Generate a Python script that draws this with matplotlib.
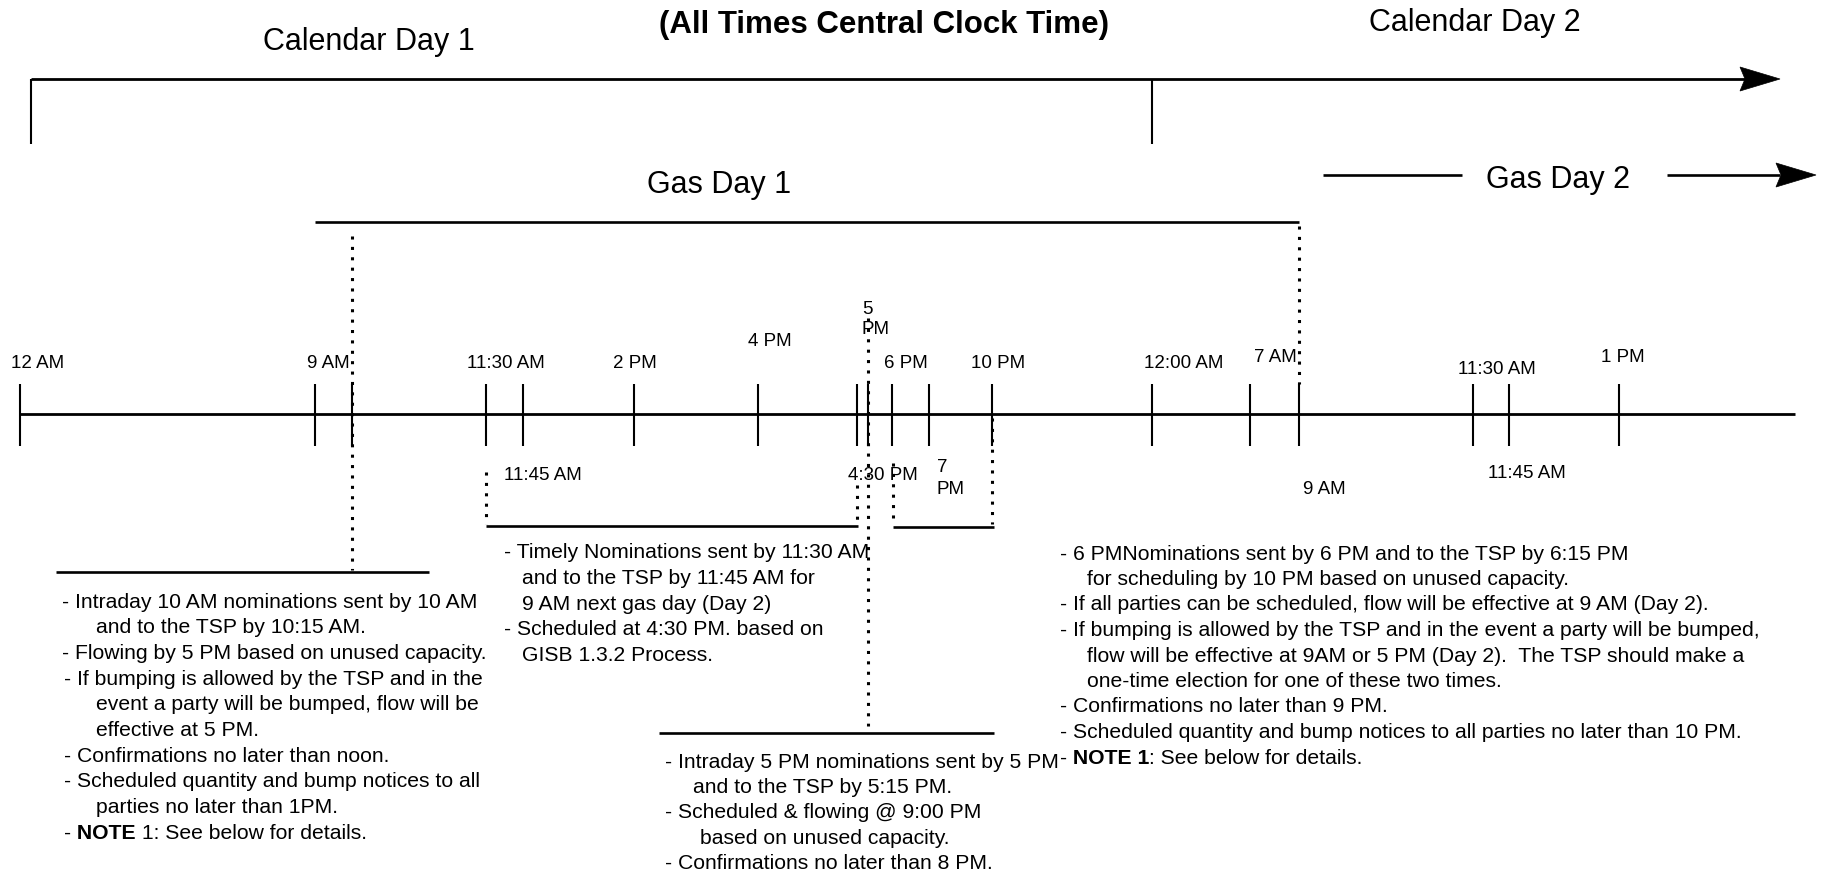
import matplotlib
matplotlib.use("Agg")
import matplotlib.pyplot as plt
from matplotlib.patches import Polygon

plt.rcParams['font.family'] = ['Liberation Sans', 'DejaVu Sans']

# ---------------- data ----------------
# timeline tick positions (diagram x, px)
tick_x = [20, 315, 352, 486, 523, 634, 758, 857, 868, 892, 929, 992,
          1152, 1250, 1299, 1473, 1509, 1619]

# time labels around the main timeline
label_text = ["12 AM", "9 AM", "11:30 AM", "2 PM", "4 PM", "5", "PM", "6 PM",
              "10 PM", "12:00 AM", "7 AM", "11:30 AM", "1 PM",
              "11:45 AM", "4:30 PM", "7", "PM", "9 AM", "11:45 AM"]
label_x = [38, 328, 506, 635, 770, 862, 862, 906, 998, 1184, 1275, 1497, 1623,
           543, 883, 937, 937, 1324, 1527]
label_y = [364, 364, 364, 364, 341, 309, 330, 364, 364, 364, 357, 370, 357,
           476, 475, 468, 490, 490, 474]
label_ha = ["center", "center", "center", "center", "center", "left", "left",
            "center", "center", "center", "center", "center", "center",
            "center", "center", "left", "left", "center", "center"]

# dotted guide lines (x, y_top, y_bottom)
dotted_x = [352, 1299, 868, 486, 857, 893, 992]
dotted_y0 = [236, 226, 318, 472, 485, 463, 418]
dotted_y1 = [570, 384, 726, 524, 524, 524, 524]

# solid bracket lines (y, x_left, x_right)
bracket_y = [526, 527, 572, 733, 222]
bracket_x0 = [486, 893, 56, 659, 315]
bracket_x1 = [858, 994, 429, 994, 1299]

# header texts
header_text = ["Calendar Day 1", "Calendar Day 2", "Gas Day 1", "Gas Day 2"]
header_x = [369, 1475, 719, 1558]
header_y = [42, 23, 185, 180]
title_text = "(All Times Central Clock Time)"

# note blocks
block1 = ["- Intraday 10 AM nominations sent by 10 AM",
          "and to the TSP by 10:15 AM.",
          "- Flowing by 5 PM based on unused capacity.",
          "- If bumping is allowed by the TSP and in the",
          "event a party will be bumped, flow will be",
          "effective at 5 PM.",
          "- Confirmations no later than noon.",
          "- Scheduled quantity and bump notices to all",
          "parties no later than 1PM.",
          "- **NOTE** 1: See below for details."]
block1_indent = [0, 34, 0, 2, 34, 34, 2, 2, 34, 2]

block2 = ["- Timely Nominations sent by 11:30 AM",
          "and to the TSP by 11:45 AM for",
          "9 AM next gas day (Day 2)",
          "- Scheduled at 4:30 PM. based on",
          "GISB 1.3.2 Process."]
block2_indent = [0, 18, 18, 0, 18]

block3 = ["- Intraday 5 PM nominations sent by 5 PM",
          "and to the TSP by 5:15 PM.",
          "- Scheduled & flowing @ 9:00 PM",
          "based on unused capacity.",
          "- Confirmations no later than 8 PM."]
block3_indent = [0, 28, 0, 35, 0]

block4 = ["- 6 PMNominations sent by 6 PM and to the TSP by 6:15 PM",
          "for scheduling by 10 PM based on unused capacity.",
          "- If all parties can be scheduled, flow will be effective at 9 AM (Day 2).",
          "- If bumping is allowed by the TSP and in the event a party will be bumped,",
          "flow will be effective at 9AM or 5 PM (Day 2).  The TSP should make a",
          "one-time election for one of these two times.",
          "- Confirmations no later than 9 PM.",
          "- Scheduled quantity and bump notices to all parties no later than 10 PM.",
          "- **NOTE 1**: See below for details."]
block4_indent = [0, 27, 0, 0, 27, 27, 0, 0, 0]

# ---------------- drawing ----------------
W, H = 1824, 874
fig = plt.figure(figsize=(W / 100, H / 100), dpi=100)
ax = fig.add_axes([0, 0, 1, 1])
ax.set_xlim(0, W)
ax.set_ylim(H, 0)
ax.axis("off")

K = "black"
LW_MAIN = 2.0
LW_TICK = 1.5
LW_BR = 1.9
DOT = dict(color=K, lw=2.2, linestyle=(0, (1, 2.4)), dash_capstyle="butt")

# dotted lines
for x, y0, y1 in zip(dotted_x, dotted_y0, dotted_y1):
    ax.plot([x, x], [y0, y1], **DOT)

# main timeline
ax.plot([min(tick_x) - 1, 1795], [414, 414], color=K, lw=LW_MAIN,
        solid_capstyle="butt")
for x in tick_x:
    ax.plot([x, x], [384, 446], color=K, lw=LW_TICK, solid_capstyle="butt")

# brackets
for y, x0, x1 in zip(bracket_y, bracket_x0, bracket_x1):
    ax.plot([x0, x1], [y, y], color=K, lw=LW_BR, solid_capstyle="butt")


def arrow_head(tip_x, y, length=40, half=12, notch=5):
    pts = [(tip_x, y), (tip_x - length, y - half),
           (tip_x - length + notch, y), (tip_x - length, y + half)]
    ax.add_patch(Polygon(pts, closed=True, facecolor=K, edgecolor=K, lw=0.5))


# calendar line
ax.plot([31, 1745], [79, 79], color=K, lw=LW_MAIN, solid_capstyle="butt")
arrow_head(1780, 79)
ax.plot([31, 31], [79, 144], color=K, lw=LW_TICK, solid_capstyle="butt")
ax.plot([1152, 1152], [79, 144], color=K, lw=LW_TICK, solid_capstyle="butt")

# gas day 2 lines
ax.plot([1323, 1462], [175, 175], color=K, lw=LW_BR, solid_capstyle="butt")
ax.plot([1667, 1780], [175, 175], color=K, lw=LW_BR, solid_capstyle="butt")
arrow_head(1816, 175)

# header text
ax.text(884, 25, title_text, ha="center", va="center", fontsize=22.5,
        fontweight="bold", color=K)
for t, x, y in zip(header_text, header_x, header_y):
    ax.text(x, y, t, ha="center", va="center", fontsize=22, color=K)

# time labels
for t, x, y, ha in zip(label_text, label_x, label_y, label_ha):
    ax.text(x, y, t, ha=ha, va="center", fontsize=13.5, color=K)

renderer = fig.canvas.get_renderer()
inv = ax.transData.inverted()


def rich_line(x, y, s, size):
    parts = s.split("**")
    carry = ""
    for i, seg in enumerate(parts):
        seg = carry + seg
        stripped = seg.rstrip(" ")
        carry = " " * (len(seg) - len(stripped))
        if not stripped:
            continue
        t = ax.text(x, y, stripped, ha="left", va="center", fontsize=size,
                    fontweight="bold" if i % 2 else "normal", color=K)
        bb = t.get_window_extent(renderer=renderer)
        x = inv.transform((bb.x1, bb.y0))[0]


def block(lines, indents, x0, y0, dy, size=15.2):
    for i, (s, ind) in enumerate(zip(lines, indents)):
        rich_line(x0 + ind, y0 + i * dy, s, size)


block(block1, block1_indent, 62, 602, 25.7)
block(block2, block2_indent, 504, 553, 25.6)
block(block3, block3_indent, 665, 762, 25.4)
block(block4, block4_indent, 1060, 554, 25.5)

fig.savefig("out.png", dpi=100)
